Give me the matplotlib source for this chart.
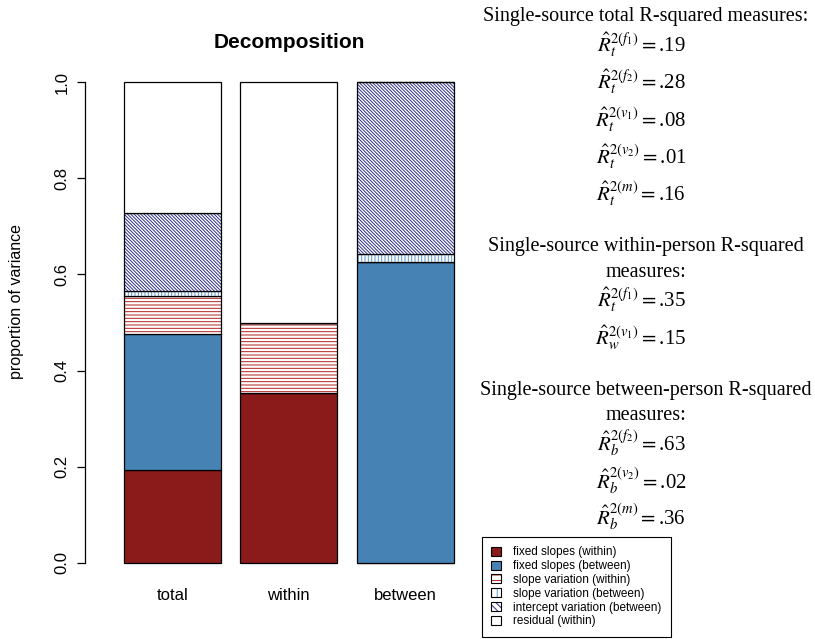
import numpy as np
import matplotlib
matplotlib.use('Agg')
import matplotlib.pyplot as plt
from matplotlib.patches import Patch

plt.rcParams['font.family'] = ['Liberation Sans', 'DejaVu Sans']
plt.rcParams['mathtext.fontset'] = 'stix'
plt.rcParams['hatch.linewidth'] = 0.7

# data
categories = ['total', 'within', 'between']
labels = ['fixed slopes (within)', 'fixed slopes (between)',
          'slope variation (within)', 'slope variation (between)',
          'intercept variation (between)', 'residual (within)']
fixed_within = [0.193, 0.354, 0.0]
fixed_between = [0.284, 0.0, 0.626]
slope_within = [0.078, 0.146, 0.0]
slope_between = [0.010, 0.0, 0.016]
intercept_between = [0.163, 0.0, 0.358]
residual_within = [0.272, 0.500, 0.0]

series = [fixed_within, fixed_between, slope_within, slope_between,
          intercept_between, residual_within]
# (face, hatch colour, hatch in bars, hatch in legend)
styles = [('#8B1A1A', None, None, None),
          ('#4682B4', None, None, None),
          ('white', '#B22222', '-----', '---'),
          ('white', '#5B9BD5', '|||||', '|||'),
          ('white', '#2E2E8A', '\\' * 10, '\\' * 5),
          ('white', None, None, None)]

r_total = [(r'$\hat{R}_t^{2(f_1)} =$', '.19'), (r'$\hat{R}_t^{2(f_2)} =$', '.28'),
           (r'$\hat{R}_t^{2(v_1)} =$', '.08'), (r'$\hat{R}_t^{2(v_2)} =$', '.01'),
           (r'$\hat{R}_t^{2(m)} =$', '.16')]
r_within = [(r'$\hat{R}_t^{2(f_1)} =$', '.35'), (r'$\hat{R}_w^{2(v_1)} =$', '.15')]
r_between = [(r'$\hat{R}_b^{2(f_2)} =$', '.63'), (r'$\hat{R}_b^{2(v_2)} =$', '.02'),
             (r'$\hat{R}_b^{2(m)} =$', '.36')]

W, H = 815, 639
fig = plt.figure(figsize=(W / 100, H / 100), dpi=100)
ax = fig.add_axes([85 / W, 57 / H, 388 / W, 519 / H])

x = np.array([0.7, 1.9, 3.1])
bottom = np.zeros(3)
handles = []
for vals, (face, hc, hatch, lhatch), lab in zip(series, styles, labels):
    vals = np.array(vals)
    if hatch:
        ax.bar(x, vals, 1.0, bottom=bottom, color=face, edgecolor=hc,
               hatch=hatch, linewidth=0)
        h1 = Patch(facecolor=face, edgecolor=hc, hatch=lhatch, linewidth=0)
        h2 = Patch(facecolor='none', edgecolor='black', linewidth=0.8)
        handles.append((h1, h2))
    else:
        ax.bar(x, vals, 1.0, bottom=bottom, color=face, linewidth=0)
        handles.append(Patch(facecolor=face, edgecolor='black', linewidth=0.8))
    ax.bar(x, vals, 1.0, bottom=bottom, fill=False, edgecolor='black',
           linewidth=0.9)
    bottom += vals

ax.set_xlim(-0.2, 3.8)
ax.set_ylim(-0.04, 1.04)
for s in ['top', 'right', 'bottom']:
    ax.spines[s].set_visible(False)
ax.spines['left'].set_bounds(0, 1)
ax.spines['left'].set_linewidth(0.9)
ax.set_yticks([0, 0.2, 0.4, 0.6, 0.8, 1.0])
ax.set_yticklabels(['0.0', '0.2', '0.4', '0.6', '0.8', '1.0'],
                   rotation=90, va='center', fontsize=12)
ax.tick_params(axis='y', length=6, width=0.9, pad=5)
ax.set_xticks(x)
ax.set_xticklabels(categories, fontsize=12)
ax.tick_params(axis='x', length=0, pad=4)

fig.text(289 / W, 1 - 42 / H, 'Decomposition', fontsize=15,
         fontweight='bold', ha='center', va='center')
fig.text(17 / W, 1 - 302 / H, 'proportion of variance', fontsize=11.5,
         rotation=90, ha='center', va='center')

serif = ['Liberation Serif', 'DejaVu Serif']
fs = 14.5


def header(yy, s):
    fig.text(646 / W, 1 - yy / H, s, family=serif, fontsize=fs,
             ha='center', va='center')


def measure(yy, pair):
    fig.text(641 / W, 1 - yy / H, pair[0] + pair[1], family=serif,
             fontsize=fs + 0.5, ha='center', va='center')


header(17, 'Single-source total R-squared measures:')
for p, yy in zip(r_total, [45, 82, 120, 157, 194]):
    measure(yy, p)
header(246, 'Single-source within-person R-squared')
header(273, 'measures:')
for p, yy in zip(r_within, [300, 338]):
    measure(yy, p)
header(391, 'Single-source between-person R-squared')
header(416, 'measures:')
for p, yy in zip(r_between, [443, 481, 517]):
    measure(yy, p)

leg = fig.legend(handles, labels, loc='upper left',
                 bbox_to_anchor=(482 / W, 1 - 537 / H), fontsize=8.5,
                 handlelength=0.8, handleheight=0.8, handletextpad=1.0,
                 labelspacing=0.15, borderpad=0.8, fancybox=False,
                 framealpha=1, edgecolor='black', borderaxespad=0)
leg.get_frame().set_linewidth(0.8)

plt.savefig('out.png', dpi=100)
